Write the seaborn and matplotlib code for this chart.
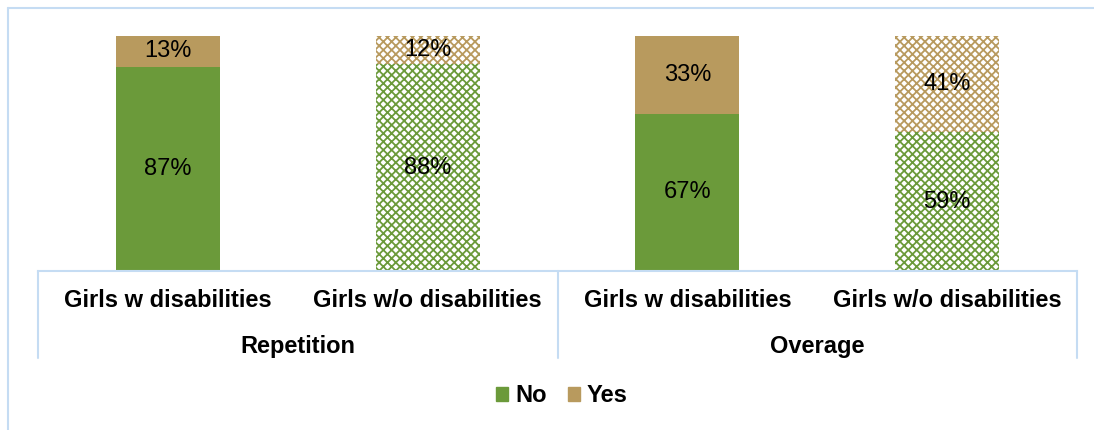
import matplotlib
matplotlib.use("Agg")
import matplotlib.pyplot as plt
import seaborn as sns
import pandas as pd
from matplotlib.lines import Line2D
from matplotlib.patches import Patch

groups = ["Repetition", "Repetition", "Overage", "Overage"]
subgroups = ["Girls w disabilities", "Girls w/o disabilities", "Girls w disabilities", "Girls w/o disabilities"]
no_vals = [87, 88, 67, 59]
yes_vals = [13, 12, 33, 41]
hatched = [False, True, False, True]

GREEN = "#6B9A3A"
TAN = "#B89A5E"
BLUE = "#C5DCF3"

sns.set_theme(style="white")
plt.rcParams['font.family'] = ['Liberation Sans', 'DejaVu Sans']
plt.rcParams['text.color'] = 'black'
plt.rcParams['xtick.color'] = 'black'
plt.rcParams['hatch.linewidth'] = 1.3

keys = [f"{g}|{s}" for g, s in zip(groups, subgroups)]
df = pd.DataFrame({"key": keys, "No": no_vals, "Yes": yes_vals})
df["Total"] = df["No"] + df["Yes"]

fig = plt.figure(figsize=(10.94, 4.30), dpi=100)
ax = fig.add_axes([38/1094, 159/430, (1077-38)/1094, 235/430])

sns.barplot(data=df, x="key", y="Total", color=TAN, width=0.4, ax=ax, saturation=1, order=keys)
sns.barplot(data=df, x="key", y="No", color=GREEN, width=0.4, ax=ax, saturation=1, order=keys)

n = len(keys)
for i, p in enumerate(ax.patches):
    idx = i % n
    col = TAN if i < n else GREEN
    p.set_linewidth(0)
    if hatched[idx]:
        p.set_facecolor("white")
        p.set_edgecolor(col)
        p.set_hatch("xxxx")
    else:
        p.set_edgecolor(col)

FS = 17
for i in range(n):
    ax.text(i, no_vals[i] / 2, f"{no_vals[i]}%", ha="center", va="center", fontsize=FS, color="black")
    ax.text(i, no_vals[i] + yes_vals[i] / 2, f"{yes_vals[i]}%", ha="center", va="center", fontsize=FS, color="black")

ax.set_ylim(0, 100)
ax.set_xlim(-0.5, n - 0.5)
ax.set_yticks([])
ax.set_xlabel("")
ax.set_ylabel("")
ax.set_xticks(range(n))
ax.set_xticklabels(subgroups, fontsize=FS, fontweight="bold", color="black")
ax.tick_params(axis="x", length=0, pad=13)
for s in ["top", "right", "left"]:
    ax.spines[s].set_visible(False)
ax.spines["bottom"].set_color(BLUE)
ax.spines["bottom"].set_linewidth(1.5)

# group separators
trans = ax.get_xaxis_transform()
for xv in [-0.5, 1.5, 3.5]:
    ax.add_line(Line2D([xv, xv], [0, -0.37], transform=trans, color=BLUE, lw=1.5, clip_on=False))
for gi, gname in enumerate(["Repetition", "Overage"]):
    ax.text(gi * 2 + 0.5, -0.32, gname, transform=trans, ha="center", va="center",
            fontsize=FS, fontweight="bold", color="black")

# outer frame
fig.add_artist(Line2D([8/1094, 8/1094], [0, 1 - 8/430], transform=fig.transFigure, color=BLUE, lw=1.5))
fig.add_artist(Line2D([8/1094, 1], [1 - 8/430, 1 - 8/430], transform=fig.transFigure, color=BLUE, lw=1.5))

handles = [Patch(facecolor=GREEN, edgecolor=GREEN), Patch(facecolor=TAN, edgecolor=TAN)]
leg = fig.legend(handles, ["No", "Yes"], loc="center", bbox_to_anchor=(562/1094, 1 - 396/430),
                 ncol=2, frameon=False, prop={"size": FS, "weight": "bold"},
                 handlelength=0.5, handleheight=0.5, handletextpad=0.3, columnspacing=0.9)
for t in leg.get_texts():
    t.set_color("black")

fig.savefig("out.png", dpi=100)
